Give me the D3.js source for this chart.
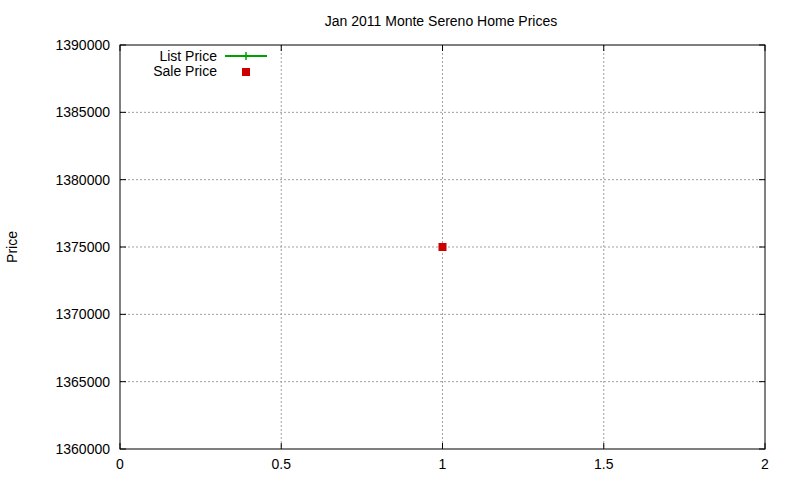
<!DOCTYPE html>
<html><head><meta charset="utf-8">
<script src="https://cdn.jsdelivr.net/npm/d3@7"></script>
<style>body{margin:0;background:#fff}text{font-family:"Liberation Sans",Arial,sans-serif;font-size:14px}</style>
</head><body><svg id="chart" width="800" height="480"></svg>
<script>
var xTicks = [0, 0.5, 1, 1.5, 2];
var yTicks = [1360000, 1365000, 1370000, 1375000, 1380000, 1385000, 1390000];
var listPrice = [];
var saleX = [1];
var saleY = [1375000];

var svg = d3.select('#chart');
var plotLeft = 120, plotRight = 765, plotTop = 45, plotBottom = 449;
var x = d3.scaleLinear().domain([0, 2]).range([plotLeft, plotRight]);
var y = d3.scaleLinear().domain([1360000, 1390000]).range([plotBottom, plotTop]);

// grid
xTicks.slice(1, -1).forEach(function(t) {
  svg.append('line').attr('x1', x(t)).attr('x2', x(t)).attr('y1', plotTop).attr('y2', plotBottom)
    .attr('stroke', '#a0a0a0').attr('stroke-dasharray', '2,2');
});
yTicks.slice(1, -1).forEach(function(t) {
  svg.append('line').attr('x1', plotLeft).attr('x2', plotRight).attr('y1', y(t)).attr('y2', y(t))
    .attr('stroke', '#a0a0a0').attr('stroke-dasharray', '2,2');
});

svg.append('rect').attr('x', plotLeft).attr('y', plotTop).attr('width', plotRight - plotLeft).attr('height', plotBottom - plotTop)
  .attr('fill', 'none').attr('stroke', '#000');

// ticks (inside, mirrored)
yTicks.forEach(function(t) {
  svg.append('line').attr('x1', plotLeft).attr('x2', plotLeft + 6).attr('y1', y(t)).attr('y2', y(t)).attr('stroke', '#000');
  svg.append('line').attr('x1', plotRight).attr('x2', plotRight - 6).attr('y1', y(t)).attr('y2', y(t)).attr('stroke', '#000');
  svg.append('text').attr('x', plotLeft - 10).attr('y', y(t) + 5).attr('text-anchor', 'end').text(t);
});
xTicks.forEach(function(t) {
  svg.append('line').attr('x1', x(t)).attr('x2', x(t)).attr('y1', plotBottom).attr('y2', plotBottom - 6).attr('stroke', '#000');
  svg.append('line').attr('x1', x(t)).attr('x2', x(t)).attr('y1', plotTop).attr('y2', plotTop + 6).attr('stroke', '#000');
  svg.append('text').attr('x', x(t)).attr('y', plotBottom + 20).attr('text-anchor', 'middle').text(t);
});

svg.append('text').attr('x', 441).attr('y', 26).attr('text-anchor', 'middle').text('Jan 2011 Monte Sereno Home Prices');
svg.append('text').attr('transform', 'translate(17,247) rotate(-90)').attr('text-anchor', 'middle').text('Price');

if (listPrice.length) {
  svg.append('path').datum(listPrice).attr('fill', 'none').attr('stroke', '#00a000').attr('stroke-width', 2)
    .attr('d', d3.line().x(function(d) { return x(d[0]); }).y(function(d) { return y(d[1]); }));
}

saleX.forEach(function(v, i) {
  svg.append('rect').attr('x', x(v) - 4).attr('y', y(saleY[i]) - 4).attr('width', 8).attr('height', 8).attr('fill', '#cc0000');
});

// legend
svg.append('text').attr('x', 217).attr('y', 61).attr('text-anchor', 'end').text('List Price');
svg.append('line').attr('x1', 225).attr('x2', 267).attr('y1', 56).attr('y2', 56).attr('stroke', '#00a000').attr('stroke-width', 2);
svg.append('line').attr('x1', 246).attr('x2', 246).attr('y1', 52).attr('y2', 60).attr('stroke', '#00a000').attr('stroke-width', 1.5);
svg.append('text').attr('x', 217).attr('y', 76).attr('text-anchor', 'end').text('Sale Price');
svg.append('rect').attr('x', 242).attr('y', 68).attr('width', 8).attr('height', 8).attr('fill', '#cc0000');
</script></body></html>
